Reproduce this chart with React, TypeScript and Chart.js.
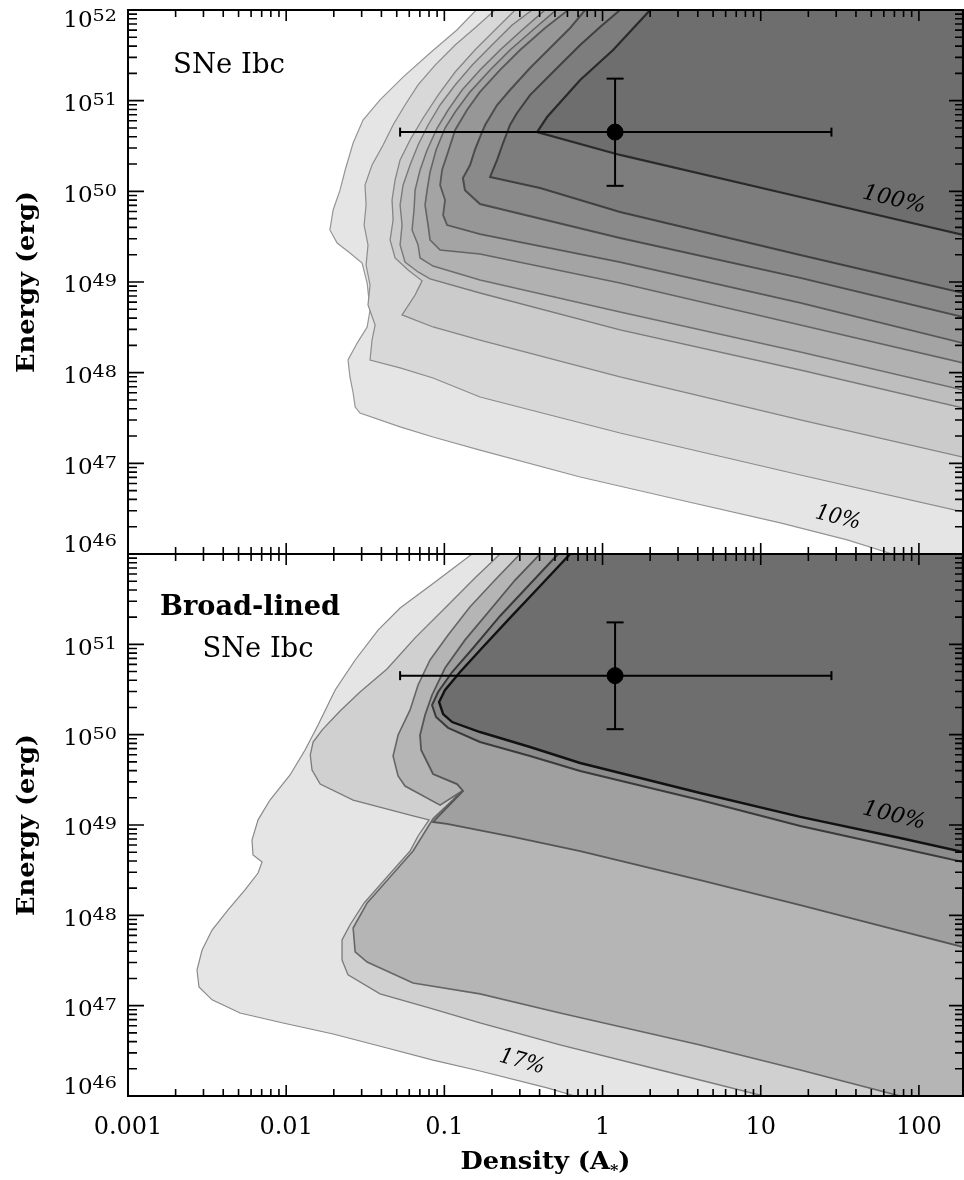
import { useEffect, useRef } from "react";
import { Chart, registerables } from "chart.js";

Chart.register(...registerables);

type Pt = [number, number];

// ---------- axes ----------
const X_MIN = 0.001;
const X_MAX = 190;
const Y_MIN = 1e46;
const Y_MAX = 1e52;
const X_TICK_VALUES = [0.001, 0.01, 0.1, 1, 10, 100];
const X_TICK_LABELS = ["0.001", "0.01", "0.1", "1", "10", "100"];
const Y_DECADE_EXPONENTS = [46, 47, 48, 49, 50, 51, 52];
const MINOR_STEPS = [2, 3, 4, 5, 6, 7, 8, 9];

// ---------- measured point (both panels) ----------
const POINT_DENSITY = 1.2;
const POINT_DENSITY_RANGE: Pt = [0.0525, 28];
const POINT_ENERGY = 4.5e50;
const POINT_ENERGY_RANGE: Pt = [1.15e50, 1.75e51];

// ---------- SNe Ibc contours (density A*, energy erg) ----------
const IBC_10: Pt[] = [[0.159,1e52],[0.12,6.02e51],[0.0812,3.36e51],[0.0548,1.82e51],[0.0392,1.02e51],[0.0306,6.12e50],[0.0265,3.41e50],[0.0236,1.72e50],[0.0219,1.03e50],[0.0198,6.23e49],[0.0189,3.75e49],[0.021,2.69e49],[0.0253,2.09e49],[0.0302,1.62e49],[0.0325,9.75e48],[0.0339,4.91e48],[0.0325,3.19e48],[0.0281,2.12e48],[0.0246,1.38e48],[0.0253,8.96e47],[0.0265,5.97e47],[0.0273,4.18e47],[0.0293,3.59e47],[0.0525,2.52e47],[0.0848,1.95e47],[0.168,1.4e47],[0.722,7.07e46],[3.09,3.94e46],[13.3,2.2e46],[35.2,1.43e46],[67.8,1e46]];
const IBC_20: Pt[] = [[0.209,1e52],[0.156,6.33e51],[0.117,4.11e51],[0.0874,2.47e51],[0.0682,1.49e51],[0.0564,8.96e50],[0.0474,5.39e50],[0.041,3.24e50],[0.0349,1.95e50],[0.0315,1.17e50],[0.032,7.07e49],[0.0311,4.25e49],[0.0329,2.56e49],[0.032,1.54e49],[0.0339,9.27e48],[0.0329,5.58e48],[0.0365,3.36e48],[0.0349,2.29e48],[0.0339,1.38e48],[0.0525,1.13e48],[0.0848,8.74e47],[0.168,5.39e47],[1.29,2.16e47],[17.8,7.44e46],[190,2.91e46]];
const IBC_30: Pt[] = [[0.28,1e52],[0.209,6.02e51],[0.156,3.62e51],[0.117,2.07e51],[0.0913,1.15e51],[0.0734,6.44e50],[0.0607,3.68e50],[0.0525,2.22e50],[0.0488,1.33e50],[0.0467,8.03e49],[0.0474,4.83e49],[0.0454,2.91e49],[0.0488,1.84e49],[0.059,1.36e49],[0.0723,1.03e49],[0.0653,7.19e48],[0.054,4.33e48],[0.0848,3.19e48],[0.168,2.29e48],[1.29,8.96e47],[17.8,3.01e47],[190,1.17e47]];
const IBC_40: Pt[] = [[0.359,1e52],[0.268,6.83e51],[0.2,4.11e51],[0.15,2.47e51],[0.117,1.49e51],[0.094,8.96e50],[0.0789,5.39e50],[0.0682,3.24e50],[0.0607,1.95e50],[0.0548,1.17e50],[0.0525,7.07e49],[0.054,4.25e49],[0.0525,2.56e49],[0.0564,1.66e49],[0.0682,1.29e49],[0.0812,1.08e49],[0.168,7.56e48],[1.29,2.96e48],[17.8,1.07e48],[190,4.08e47]];
const IBC_50: Pt[] = [[0.433,1e52],[0.31,6.02e51],[0.225,3.62e51],[0.168,2.18e51],[0.1294,1.31e51],[0.1056,7.89e50],[0.09,4.99e50],[0.0778,2.86e50],[0.0702,1.72e50],[0.0653,1.03e50],[0.0643,6.23e49],[0.0625,3.75e49],[0.0682,2.56e49],[0.0702,1.84e49],[0.0848,1.5e49],[0.168,1.05e49],[1.29,4.67e48],[17.8,1.69e48],[190,6.44e47]];
const IBC_60: Pt[] = [[0.509,1e52],[0.375,6.33e51],[0.26,3.62e51],[0.1946,2.18e51],[0.1454,1.25e51],[0.117,7.5e50],[0.101,4.99e50],[0.0886,2.86e50],[0.0812,1.63e50],[0.0778,1.03e50],[0.0755,7.07e49],[0.0789,4.25e49],[0.0812,2.91e49],[0.094,2.25e49],[0.168,2.04e49],[1.29,9.75e48],[17.8,3.36e48],[190,1.28e48]];
const IBC_70: Pt[] = [[0.606,1e52],[0.433,6.33e51],[0.301,3.62e51],[0.225,2.18e51],[0.168,1.25e51],[0.139,7.89e50],[0.117,4.75e50],[0.104,2.52e50],[0.0967,1.72e50],[0.094,1.17e50],[0.101,8.03e49],[0.0982,5.48e49],[0.104,4.25e49],[0.168,3.38e49],[1.29,1.66e49],[17.8,5.87e48],[190,2.12e48]];
const IBC_80: Pt[] = [[0.776,1e52],[0.624,6.33e51],[0.466,3.81e51],[0.348,2.29e51],[0.26,1.31e51],[0.2155,8.96e50],[0.181,5.39e50],[0.168,3.97e50],[0.156,2.86e50],[0.1454,1.95e50],[0.131,1.4e50],[0.135,1.03e50],[0.168,7.25e49],[1.29,3.06e49],[17.8,1.11e49],[190,4.11e48]];
const IBC_90: Pt[] = [[1.29,1e52],[0.965,6.49e51],[0.722,4.11e51],[0.563,2.67e51],[0.446,1.78e51],[0.348,1.15e51],[0.288,7.31e50],[0.26,5.39e50],[0.235,3.41e50],[0.2155,2.22e50],[0.1946,1.44e50],[0.403,1.09e50],[1.29,5.92e49],[17.8,1.99e49],[190,7.56e48]];
const IBC_100: Pt[] = [[2.0,1e52],[1.166,3.62e51],[0.722,1.69e51],[0.446,6.6e50],[0.386,4.51e50],[1.29,2.52e50],[17.8,8.66e49],[190,3.3e49]];

// ---------- Broad-lined SNe Ibc contours ----------
const BL_17: Pt[] = [[0.1497,1e52],[0.0874,4.9e51],[0.0525,2.52e51],[0.0381,1.44e51],[0.0273,6.71e50],[0.0204,3.12e50],[0.0159,1.28e50],[0.01316,6.77e49],[0.01058,3.58e49],[0.0079,1.89e49],[0.00664,1.14e49],[0.00608,6.82e48],[0.00617,4.65e48],[0.00704,3.89e48],[0.00664,2.94e48],[0.00549,1.91e48],[0.00429,1.15e48],[0.0034,6.88e47],[0.00294,4.13e47],[0.00273,2.48e47],[0.00281,1.61e47],[0.0034,1.16e47],[0.00511,8.3e46],[0.00955,6.43e46],[0.0198,4.86e46],[0.041,3.49e46],[0.0848,2.5e46],[0.168,1.89e46],[0.446,1.23e46],[0.671,1e46]];
const BL_33: Pt[] = [[0.225,1e52],[0.156,5.42e51],[0.104,2.66e51],[0.0653,1.18e51],[0.0434,5.33e50],[0.0293,2.97e50],[0.0219,1.83e50],[0.0169,1.13e50],[0.0148,8.29e49],[0.0142,5.96e49],[0.01457,4.06e49],[0.0164,2.84e49],[0.0265,1.89e49],[0.0634,1.26e49],[0.08,1.14e49],[0.0682,7.56e48],[0.0607,5.15e48],[0.0434,2.66e48],[0.0311,1.37e48],[0.0253,7.82e47],[0.02255,5.33e47],[0.02255,3.2e47],[0.0246,2.19e47],[0.0392,1.35e47],[0.0812,9.42e46],[0.168,6.43e46],[0.539,3.67e46],[2.31,1.94e46],[10.4,1e46]];
const BL_50: Pt[] = [[0.301,1e52],[0.209,5.15e51],[0.145,2.59e51],[0.1056,1.27e51],[0.0812,6.71e50],[0.0682,3.55e50],[0.0607,1.88e50],[0.051,9.92e49],[0.0474,5.81e49],[0.051,3.49e49],[0.0564,2.7e49],[0.094,1.66e49],[0.1294,2.38e49],[0.0848,1.17e49],[0.0634,5.15e48],[0.0454,2.66e48],[0.0325,1.37e48],[0.0265,7.24e47],[0.0273,3.93e47],[0.0325,3.04e47],[0.0634,1.78e47],[0.168,1.35e47],[0.539,8.3e46],[4.14,3.67e46],[17.8,1.94e46],[76.1,1e46]];
const BL_67: Pt[] = [[0.403,1e52],[0.28,5.15e51],[0.1946,2.4e51],[0.1352,1.12e51],[0.101,5.47e50],[0.0836,2.75e50],[0.0755,1.65e50],[0.0702,9.92e49],[0.0713,6.77e49],[0.0848,3.67e49],[0.1203,2.84e49],[0.1313,2.38e49],[0.0848,1.08e49],[0.104,1.03e49],[0.272,7.37e48],[0.722,5.15e48],[4.14,2.46e48],[17.8,1.3e48],[76.1,6.71e47],[190,4.46e47]];
const BL_83: Pt[] = [[0.524,1e52],[0.348,4.65e51],[0.225,2.06e51],[0.152,9.11e50],[0.112,4.94e50],[0.0913,2.97e50],[0.0836,2.13e50],[0.0886,1.57e50],[0.1056,1.19e50],[0.168,8.29e49],[0.348,5.81e49],[0.722,3.96e49],[4.14,1.89e49],[17.8,9.75e48],[76.1,5.56e48],[190,3.89e48]];
const BL_100: Pt[] = [[0.624,1e52],[0.403,4.42e51],[0.26,1.96e51],[0.173,9.11e50],[0.1257,4.94e50],[0.101,3.12e50],[0.0926,2.3e50],[0.0982,1.69e50],[0.112,1.38e50],[0.168,1.07e50],[0.348,7.3e49],[0.722,4.86e49],[4.14,2.26e49],[17.8,1.23e49],[76.1,7.18e48],[190,5.02e48]];

const IBC_CONTOURS = [IBC_10, IBC_20, IBC_30, IBC_40, IBC_50, IBC_60, IBC_70, IBC_80, IBC_90, IBC_100];
const BL_CONTOURS = [BL_17, BL_33, BL_50, BL_67, BL_83, BL_100];

// ---------- styles ----------
const IBC_FILLS = ["#e5e5e5", "#d8d8d8", "#cbcbcb", "#bebebe", "#b1b1b1", "#a4a4a4", "#979797", "#8a8a8a", "#7d7d7d", "#6e6e6e"];
const IBC_LINES = ["#959595", "#8c8c8c", "#858585", "#7a7a7a", "#6e6e6e", "#646464", "#585858", "#4c4c4c", "#404040", "#2a2a2a"];
const IBC_WIDTHS = [1.2, 1.2, 1.3, 1.4, 1.5, 1.6, 1.8, 2, 2, 2.2];
const BL_FILLS = ["#e5e5e5", "#d0d0d0", "#b5b5b5", "#a0a0a0", "#8c8c8c", "#6e6e6e"];
const BL_LINES = ["#8a8a8a", "#7a7a7a", "#666666", "#555555", "#3a3a3a", "#111111"];
const BL_WIDTHS = [1.2, 1.3, 1.6, 1.8, 2, 2.4];

const FONT = "'DejaVu Serif', 'Liberation Serif', serif";

interface Note { text: string; dx: number; dy: number; font: string; width: number; rot?: number }
interface PanelSpec { id: string; yLabelExps: number[]; showX: boolean; notes: Note[] }

const IBC_SPEC: PanelSpec = {
  id: "ibc",
  yLabelExps: [46, 47, 48, 49, 50, 51, 52],
  showX: false,
  notes: [
    { text: "SNe Ibc", dx: 101, dy: 56, font: `27px ${FONT}`, width: 112 },
    { text: "100%", dx: 766, dy: 190, font: `italic 22px ${FONT}`, width: 64, rot: 13 },
    { text: "10%", dx: 710, dy: 508, font: `italic 22px ${FONT}`, width: 46, rot: 14 },
  ],
};
const BL_SPEC: PanelSpec = {
  id: "bl",
  yLabelExps: [46, 47, 48, 49, 50, 51],
  showX: true,
  notes: [
    { text: "Broad-lined", dx: 122, dy: 54, font: `bold 27px ${FONT}`, width: 180 },
    { text: "SNe Ibc", dx: 130, dy: 96, font: `27px ${FONT}`, width: 111 },
    { text: "100%", dx: 766, dy: 262, font: `italic 22px ${FONT}`, width: 64, rot: 13.5 },
    { text: "17%", dx: 394, dy: 508, font: `italic 22px ${FONT}`, width: 46, rot: 15 },
  ],
};

function closeRegion(pts: Pt[]) {
  const out = pts.map(([x, y]) => ({ x, y }));
  const last = pts[pts.length - 1];
  if (last[0] < X_MAX) out.push({ x: X_MAX, y: Y_MIN });
  out.push({ x: X_MAX, y: Y_MAX });
  return out;
}

function contourDatasets(contours: Pt[][], fills: string[], lines: string[], widths: number[]) {
  return contours.map((pts, i) => ({
    data: closeRegion(pts),
    showLine: true,
    fill: "shape",
    backgroundColor: fills[i],
    borderColor: lines[i],
    borderWidth: widths[i],
    pointRadius: 0,
    pointHoverRadius: 0,
    tension: 0,
    order: 100 - i,
  }));
}

function pointDatasets() {
  return [
    {
      data: [{ x: POINT_DENSITY_RANGE[0], y: POINT_ENERGY }, { x: POINT_DENSITY_RANGE[1], y: POINT_ENERGY }],
      showLine: true, borderColor: "#000", borderWidth: 2, fill: false,
      pointStyle: "line", pointRadius: 4.5, pointRotation: 90,
      pointBorderColor: "#000", pointBorderWidth: 2, order: 2,
    },
    {
      data: [{ x: POINT_DENSITY, y: POINT_ENERGY_RANGE[0] }, { x: POINT_DENSITY, y: POINT_ENERGY_RANGE[1] }],
      showLine: true, borderColor: "#000", borderWidth: 2, fill: false,
      pointStyle: "line", pointRadius: 8.5, pointRotation: 0,
      pointBorderColor: "#000", pointBorderWidth: 2, order: 1,
    },
    {
      data: [{ x: POINT_DENSITY, y: POINT_ENERGY }],
      showLine: false, pointStyle: "circle", pointRadius: 8,
      pointBackgroundColor: "#000", pointBorderColor: "#000", pointBorderWidth: 1, order: 0,
    },
  ];
}

function fitText(ctx: CanvasRenderingContext2D, s: string, cx: number, cy: number, font: string, width: number, rotDeg = 0) {
  ctx.save();
  ctx.font = font;
  const w = ctx.measureText(s).width;
  ctx.translate(cx, cy);
  if (rotDeg) ctx.rotate((rotDeg * Math.PI) / 180);
  ctx.scale(width / w, 1);
  ctx.textAlign = "center";
  ctx.textBaseline = "middle";
  ctx.fillStyle = "#000";
  ctx.fillText(s, 0, 0);
  ctx.restore();
}

const dec = (e: number) => Number("1e" + e);

function framePlugin(spec: PanelSpec) {
  return {
    id: "frame-" + spec.id,
    afterDraw(chart: any) {
      const ctx: CanvasRenderingContext2D = chart.ctx;
      const { left, right, top, bottom } = chart.chartArea;
      const xs = chart.scales.x;
      const ys = chart.scales.y;
      ctx.save();
      ctx.strokeStyle = "#000";
      ctx.lineWidth = 1.6;
      ctx.beginPath();
      for (const d of X_TICK_VALUES) {
        const vals = [d, ...MINOR_STEPS.map((m) => m * d)];
        vals.forEach((v, k) => {
          if (v > X_MAX * 1.0001) return;
          const px = xs.getPixelForValue(v);
          const len = k === 0 ? 11 : 7;
          ctx.moveTo(px, bottom); ctx.lineTo(px, bottom - len);
          ctx.moveTo(px, top); ctx.lineTo(px, top + len);
        });
      }
      for (const e of Y_DECADE_EXPONENTS) {
        const d = dec(e);
        const vals = [d, ...MINOR_STEPS.map((m) => m * d)];
        vals.forEach((v, k) => {
          if (v > Y_MAX * 1.0001) return;
          const py = ys.getPixelForValue(v);
          const major = k === 0;
          ctx.moveTo(left, py); ctx.lineTo(left + (major ? 16 : 9), py);
          ctx.moveTo(right, py); ctx.lineTo(right - (major ? 14 : 8), py);
        });
      }
      ctx.stroke();
      ctx.lineWidth = 2;
      ctx.strokeRect(left, top, right - left, bottom - top);

      // y labels 10^n
      ctx.fillStyle = "#000";
      for (const e of spec.yLabelExps) {
        const py = ys.getPixelForValue(dec(e));
        let cy = py + 2;
        if (py - top < 4) cy = top + 9;
        if (bottom - py < 4) cy = bottom - 10;
        const sup = String(e);
        ctx.font = `23px ${FONT}`;
        const w1 = ctx.measureText("10").width;
        ctx.font = `16px ${FONT}`;
        const w2 = ctx.measureText(sup).width * 1.2;
        const rx = left - 11;
        const base = cy + 8.4;
        ctx.font = `23px ${FONT}`;
        ctx.textAlign = "left";
        ctx.textBaseline = "alphabetic";
        ctx.fillText("10", rx - w2 - w1, base);
        ctx.save();
        ctx.translate(rx - w2, base - 6);
        ctx.scale(1.2, 1);
        ctx.font = `16px ${FONT}`;
        ctx.fillText(sup, 0, 0);
        ctx.restore();
      }

      // y title
      fitText(ctx, "Energy (erg)", left - 101, (top + bottom) / 2, `bold 25px ${FONT}`, 182, -90);

      // x labels and title
      if (spec.showX) {
        X_TICK_VALUES.forEach((v, i) => {
          const px = xs.getPixelForValue(v);
          ctx.font = `24px ${FONT}`;
          ctx.textAlign = "center";
          ctx.textBaseline = "middle";
          ctx.fillStyle = "#000";
          ctx.fillText(X_TICK_LABELS[i], px, bottom + 32);
        });
        // Density (A*)
        const cx = (left + right) / 2;
        const cy = bottom + 67;
        const mainF = `bold 24px ${FONT}`;
        const subF = `bold 15px ${FONT}`;
        ctx.font = mainF;
        const a = ctx.measureText("Density (A").width;
        const c = ctx.measureText(")").width;
        ctx.font = subF;
        const b = ctx.measureText("*").width;
        const total = a + b + c;
        const sx = 170 / total;
        ctx.save();
        ctx.translate(cx - 85, cy);
        ctx.scale(sx, 1);
        ctx.textAlign = "left";
        ctx.textBaseline = "middle";
        ctx.font = mainF;
        ctx.fillText("Density (A", 0, 0);
        ctx.font = subF;
        ctx.fillText("*", a, 8);
        ctx.font = mainF;
        ctx.fillText(")", a + b, 0);
        ctx.restore();
      }

      for (const n of spec.notes) {
        fitText(ctx, n.text, left + n.dx, top + n.dy, n.font, n.width, n.rot || 0);
      }
      ctx.restore();
    },
  };
}

function makeChart(canvas: HTMLCanvasElement, datasets: any[], spec: PanelSpec, padding: any) {
  return new Chart(canvas, {
    type: "scatter",
    data: { datasets },
    options: {
      animation: false,
      responsive: false,
      devicePixelRatio: 1,
      events: [],
      layout: { padding, autoPadding: false },
      plugins: { legend: { display: false }, tooltip: { enabled: false } },
      scales: {
        x: { type: "logarithmic", min: X_MIN, max: X_MAX, display: false },
        y: { type: "logarithmic", min: Y_MIN, max: Y_MAX, display: false },
      },
    },
    plugins: [framePlugin(spec)],
  } as any);
}

export default function App() {
  const topRef = useRef<HTMLCanvasElement>(null);
  const botRef = useRef<HTMLCanvasElement>(null);
  useEffect(() => {
    const c1 = makeChart(
      topRef.current!,
      [...pointDatasets(), ...contourDatasets(IBC_CONTOURS, IBC_FILLS, IBC_LINES, IBC_WIDTHS)],
      IBC_SPEC,
      { left: 128, top: 10, right: 1, bottom: 12 }
    );
    const c2 = makeChart(
      botRef.current!,
      [...pointDatasets(), ...contourDatasets(BL_CONTOURS, BL_FILLS, BL_LINES, BL_WIDTHS)],
      BL_SPEC,
      { left: 128, top: 10, right: 1, bottom: 84 }
    );
    return () => {
      c1.destroy();
      c2.destroy();
    };
  }, []);
  return (
    <div style={{ position: "absolute", left: 0, top: 0, width: 964, height: 1180, background: "#fff" }}>
      <canvas ref={topRef} width={964} height={566} style={{ position: "absolute", left: 0, top: 0, width: 964, height: 566 }} />
      <canvas ref={botRef} width={964} height={636} style={{ position: "absolute", left: 0, top: 544, width: 964, height: 636 }} />
    </div>
  );
}
